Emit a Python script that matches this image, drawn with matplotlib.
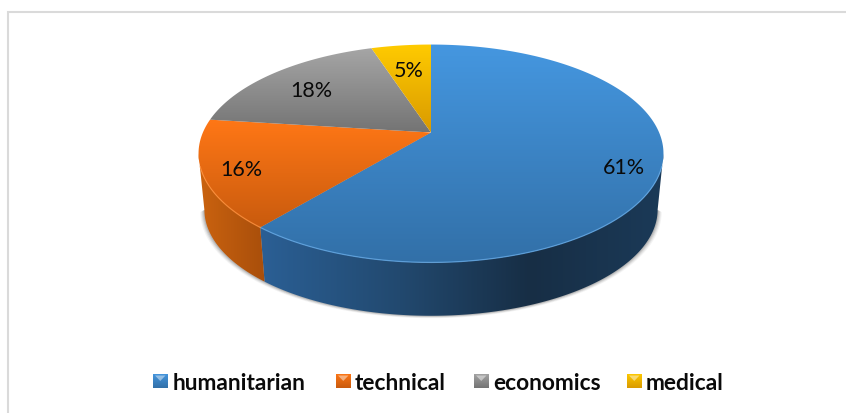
import numpy as np
import matplotlib
matplotlib.use("Agg")
import matplotlib.pyplot as plt
from matplotlib.patches import Polygon

categories = ["humanitarian", "technical", "economics", "medical"]
values = [61, 16, 18, 5]
label_radius = [0.85, 0.84, 0.74, 0.71]

# top face gradient, top colour to bottom colour
face_top = ["#4597E0", "#FF7716", "#A6A6A6", "#FFCB00"]
face_bot = ["#3270A8", "#C95B0E", "#747474", "#D99A00"]
rim = ["#62A8E6", "#FF8E38", "#B0B0B0", "#FFD633"]
# side wall gradient, left to right (only the two near slices show a wall)
side_stops = [
    [(255, "#2B6096"), (400, "#22496F"), (530, "#172E45"), (665, "#1B3A58")],
    [(198, "#CB630F"), (270, "#A64D0B")],
]

W, H = 846, 414
cx, cy = 431, 133.5
a, b, k = 104.9, 228.1, 0.1927
drop, shrink = 56.6, 0.975
# fractions where the rim is widest, the wall is visible between them
wall_from, wall_to = 0.2809, 0.7191


def to_rgb(c):
    return np.array(matplotlib.colors.to_rgb(c))


def project(frac, r=1.0):
    # pie fraction clockwise from 12 o'clock, seen in perspective
    t = 2 * np.pi * np.asarray(frac)
    u, v = r * np.sin(t), -r * np.cos(t)
    d = 1 - k * v
    return b * u / d, a * v / d


def arc(f0, f1):
    fr = np.linspace(f0, f1, max(int((f1 - f0) * 720), 4))
    return project(fr)


def gradient(ax, poly, extent, colors, vertical=True):
    # paint an interpolated ramp and clip it to the polygon
    n = 256
    pos = np.linspace(0, 1, n)
    xs = np.linspace(0, 1, len(colors))
    if isinstance(colors[0], tuple):
        xs = np.array([p for p, _ in colors], float)
        xs = (xs - xs[0]) / (xs[-1] - xs[0])
        colors = [c for _, c in colors]
    rgb = np.array([to_rgb(c) for c in colors])
    ramp = np.stack([np.interp(pos, xs, rgb[:, i]) for i in range(3)], axis=1)
    img = ramp[:, None, :] if vertical else ramp[None, :, :]
    patch = Polygon(poly, closed=True, fc="none", ec="none", transform=ax.transData)
    ax.add_patch(patch)
    im = ax.imshow(img, extent=extent, aspect="auto", origin="upper",
                   interpolation="bilinear", zorder=patch.get_zorder())
    im.set_clip_path(patch)
    return im


fig = plt.figure(figsize=(W / 100, H / 100), dpi=100)
ax = fig.add_axes([0, 0, 1, 1])
ax.axis("off")
fig.patch.set_facecolor("white")

# chart frame runs off the right and bottom
ax.plot([W + 5, 8, 8], [13, 13, H + 5], color="#DADADA", lw=1.5, solid_joinstyle="miter", zorder=1)

edges = np.concatenate([[0], np.cumsum(values)]) / sum(values)

# soft shadow under the wall
X, Y = arc(wall_from, wall_to)
lowx = cx + shrink * X
lowy = cy + shrink * Y + drop
for grow, alpha in zip([4.0, 3.0, 2.0, 1.0], [0.07, 0.10, 0.15, 0.20]):
    ax.add_patch(Polygon(np.vstack([[cx, cy], np.c_[cx + (lowx - cx) * (1 + grow / 225), lowy + grow * 0.6]]),
                         fc="#555555", ec="none", alpha=alpha, zorder=2))

# side walls first, the top face sits on them
for i in range(2):
    f0, f1 = max(edges[i], wall_from), min(edges[i + 1], wall_to)
    X, Y = arc(f0, f1)
    top = np.c_[cx + X, cy + Y]
    low = np.c_[cx + shrink * X, cy + shrink * Y + drop][::-1]
    stops = side_stops[i]
    im = gradient(ax, np.vstack([top, low]), (stops[0][0], stops[-1][0], H, 0), stops, vertical=False)
    im.set_zorder(3)

# top face
for i in range(len(values)):
    X, Y = arc(edges[i], edges[i + 1])
    poly = np.vstack([[cx, cy], np.c_[cx + X, cy + Y]])
    ys = poly[:, 1]
    im = gradient(ax, poly, (0, W, ys.max(), ys.min()), [face_top[i], face_bot[i]])
    im.set_zorder(4)
    # bright rim, only along the near edge
    f0, f1 = max(edges[i], 0.3), min(edges[i + 1], 0.7)
    if f1 > f0:
        X, Y = arc(f0, f1)
        ax.plot(cx + X, cy + Y, color=rim[i], lw=0.9, alpha=0.8, zorder=5)

# value labels
for i, v in enumerate(values):
    mid = (edges[i] + edges[i + 1]) / 2
    x, y = project(mid, label_radius[i])
    ax.text(cx + x, cy + y + 2.5, f"{v}%", ha="center", va="center", fontsize=15.5,
            family="Lato", color="#0A0A0A", zorder=6)

# legend row
legend_x = [153, 336, 474, 627]
text_x = [173, 355, 493, 646]
for i, name in enumerate(categories):
    x0, y0, s = legend_x[i], 375, 14.5
    sq = [(x0, y0), (x0 + s, y0), (x0 + s, y0 + s), (x0, y0 + s)]
    im = gradient(ax, sq, (x0, x0 + s, y0 + s, y0), [face_top[i], face_bot[i]])
    im.set_zorder(6)
    ax.add_patch(Polygon([(x0 + 2, y0 + 1.5), (x0 + s - 2, y0 + 1.5), (x0 + s / 2, y0 + 7)],
                         fc="white", ec="none", alpha=0.45, zorder=7))
    ax.text(text_x[i], 390, name, ha="left", va="baseline", fontsize=16.4,
            family="Lato", weight="bold", color="#0A0A0A", zorder=7)

ax.set_xlim(0, W)
ax.set_ylim(H, 0)
fig.savefig("out.png", dpi=100)
